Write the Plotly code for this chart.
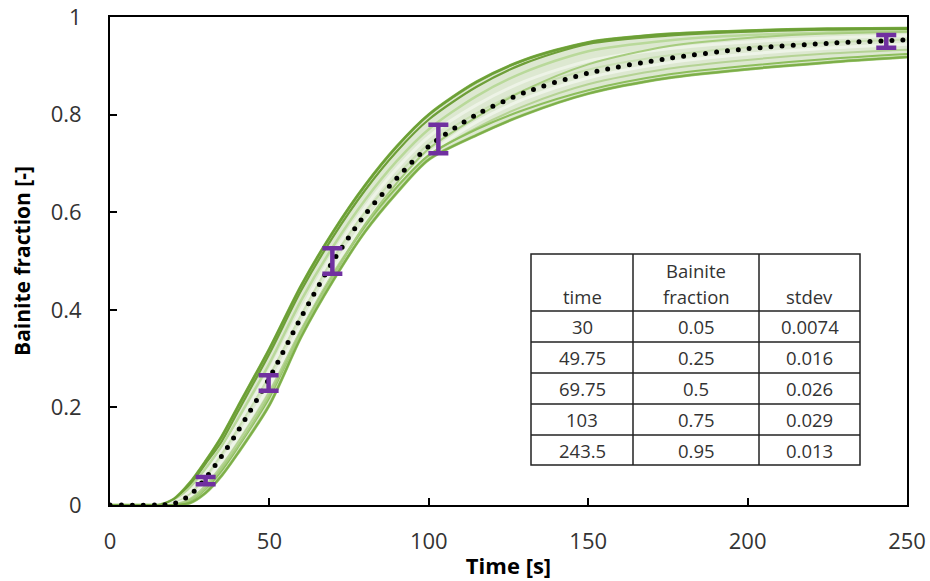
import plotly.graph_objects as go

# ---------------- data ----------------
T = [0, 15, 20, 25, 30, 35, 40, 50, 60, 70, 80, 90, 100, 115, 130, 150, 175, 200, 225, 250]

mean_fit = [0, 0, 0.003, 0.02, 0.055, 0.10, 0.15, 0.26, 0.385, 0.50, 0.595, 0.67, 0.735, 0.80, 0.845, 0.885, 0.915, 0.935, 0.946, 0.953]

upper_sim = [0, 0, 0.012, 0.045, 0.09, 0.14, 0.20, 0.32, 0.45, 0.56, 0.655, 0.735, 0.80, 0.867, 0.912, 0.948, 0.965, 0.972, 0.976, 0.977]
lower_sim = [0, 0, 0, 0.004, 0.025, 0.06, 0.105, 0.205, 0.345, 0.46, 0.56, 0.64, 0.708, 0.758, 0.80, 0.843, 0.875, 0.893, 0.907, 0.918]

sim_1 = [0, 0, 0.01, 0.04, 0.085, 0.13, 0.19, 0.31, 0.44, 0.55, 0.645, 0.725, 0.79, 0.857, 0.905, 0.945, 0.962, 0.97, 0.974, 0.975]
sim_2 = [0, 0, 0.008, 0.035, 0.075, 0.12, 0.175, 0.29, 0.42, 0.53, 0.625, 0.705, 0.77, 0.838, 0.887, 0.93, 0.952, 0.963, 0.968, 0.971]
sim_3 = [0, 0, 0.006, 0.028, 0.065, 0.11, 0.163, 0.275, 0.40, 0.515, 0.61, 0.69, 0.755, 0.82, 0.868, 0.91, 0.935, 0.949, 0.957, 0.962]
sim_4 = [0, 0, 0.004, 0.022, 0.058, 0.104, 0.155, 0.265, 0.39, 0.505, 0.60, 0.675, 0.74, 0.803, 0.85, 0.892, 0.921, 0.938, 0.948, 0.954]
sim_5 = [0, 0, 0.002, 0.016, 0.048, 0.09, 0.138, 0.245, 0.37, 0.485, 0.58, 0.655, 0.72, 0.785, 0.832, 0.875, 0.906, 0.924, 0.936, 0.944]
sim_6 = [0, 0, 0.001, 0.012, 0.04, 0.08, 0.127, 0.232, 0.36, 0.475, 0.57, 0.65, 0.715, 0.773, 0.818, 0.862, 0.894, 0.912, 0.925, 0.933]
sim_7 = [0, 0, 0, 0.008, 0.033, 0.07, 0.117, 0.22, 0.355, 0.47, 0.572, 0.652, 0.717, 0.77, 0.81, 0.85, 0.882, 0.9, 0.914, 0.924]
sim_8 = [0, 0, 0, 0.01, 0.035, 0.075, 0.12, 0.225, 0.355, 0.47, 0.575, 0.66, 0.73, 0.795, 0.85, 0.903, 0.94, 0.957, 0.966, 0.97]

exp_time = [30, 49.75, 69.75, 103, 243.5]
exp_time_labels = ["30", "49.75", "69.75", "103", "243.5"]
exp_fraction = [0.05, 0.25, 0.5, 0.75, 0.95]
exp_fraction_labels = ["0.05", "0.25", "0.5", "0.75", "0.95"]
exp_stdev = [0.0074, 0.016, 0.026, 0.029, 0.013]
exp_stdev_labels = ["0.0074", "0.016", "0.026", "0.029", "0.013"]

x_ticks = [0, 50, 100, 150, 200, 250]
y_ticks = [0, 0.2, 0.4, 0.6, 0.8, 1]
y_tick_labels = ["0", "0.2", "0.4", "0.6", "0.8", "1"]

# ---------------- figure ----------------
W, H = 930, 581
ML, MR, MT, MB = 110, 23, 17, 76
PW, PH = W - ML - MR, H - MT - MB

FONT = "'Open Sans', sans-serif"
SPL = dict(shape="spline", smoothing=0.8)
fig = go.Figure()

# band fill between envelopes
fig.add_trace(go.Scatter(x=T, y=lower_sim, mode="lines", line=dict(color="#9CC873", width=3, **SPL),
                         showlegend=False, hoverinfo="skip"))
fig.add_trace(go.Scatter(x=T, y=upper_sim, mode="lines", line=dict(color="#7FB24A", width=3, **SPL),
                         fill="tonexty", fillcolor="#DDE8D1", showlegend=False, hoverinfo="skip"))

inner = [
    (sim_1, "#6E9F38", 2.2),
    (sim_2, "#B9D99A", 2.5),
    (sim_3, "#EDF3E6", 3),
    (sim_4, "#C9DFB3", 2),
    (sim_5, "#EEF4E8", 3),
    (sim_6, "#B5D394", 2),
    (sim_7, "#8DBE5C", 2),
    (sim_8, "#A6CC7E", 2),
]
for ys, col, w in inner:
    fig.add_trace(go.Scatter(x=T, y=ys, mode="lines", line=dict(color=col, width=w, **SPL),
                             showlegend=False, hoverinfo="skip"))

# outer edges on top
fig.add_trace(go.Scatter(x=T, y=upper_sim, mode="lines", line=dict(color="#6C9F36", width=2, **SPL),
                         showlegend=False, hoverinfo="skip"))
fig.add_trace(go.Scatter(x=T, y=lower_sim, mode="lines", line=dict(color="#7DAE48", width=2, **SPL),
                         showlegend=False, hoverinfo="skip"))

# dotted fit
fig.add_trace(go.Scatter(x=T, y=mean_fit, mode="lines",
                         line=dict(color="black", width=5, dash="5px,6px", **SPL),
                         showlegend=False, hoverinfo="skip"))

# experimental error bars
fig.add_trace(go.Scatter(x=exp_time, y=exp_fraction, mode="markers",
                         marker=dict(size=1, color="rgba(0,0,0,0)"),
                         error_y=dict(type="data", array=exp_stdev, visible=True, color="#7030A0", thickness=4.5, width=10),
                         showlegend=False, hoverinfo="skip"))

# ---------------- table (shapes + annotations) ----------------
def px_x(p):
    return (p - ML) / PW

def px_y(p):
    return (H - MB - p) / PH

tab_cols = [531, 633, 759, 860]
tab_rows = [254, 311, 342, 373, 404, 435, 465]
shapes = []
shapes.append(dict(type="rect", xref="paper", yref="paper", x0=px_x(tab_cols[0]), x1=px_x(tab_cols[-1]),
                   y0=px_y(tab_rows[-1]), y1=px_y(tab_rows[0]), fillcolor="white",
                   line=dict(color="#222", width=1.5), layer="above"))
for c in tab_cols[1:-1]:
    shapes.append(dict(type="line", xref="paper", yref="paper", x0=px_x(c), x1=px_x(c),
                       y0=px_y(tab_rows[-1]), y1=px_y(tab_rows[0]), line=dict(color="#222", width=1.5), layer="above"))
for r in tab_rows[1:-1]:
    shapes.append(dict(type="line", xref="paper", yref="paper", x0=px_x(tab_cols[0]), x1=px_x(tab_cols[-1]),
                       y0=px_y(r), y1=px_y(r), line=dict(color="#222", width=1.5), layer="above"))

annots = []
tfont = dict(family=FONT, size=18.5, color="#333")
centers = [(tab_cols[i] + tab_cols[i + 1]) / 2 for i in range(3)]
def cell(text, cx, cy):
    annots.append(dict(text=text, xref="paper", yref="paper", x=px_x(cx), y=px_y(cy), showarrow=False,
                       xanchor="center", yanchor="middle", font=tfont))

cell("time", centers[0], 296)
cell("Bainite", centers[1], 270)
cell("fraction", centers[1], 296)
cell("stdev", centers[2], 296)
for i in range(len(exp_time)):
    cy = (tab_rows[i + 1] + tab_rows[i + 2]) / 2
    cell(exp_time_labels[i], centers[0], cy)
    cell(exp_fraction_labels[i], centers[1], cy)
    cell(exp_stdev_labels[i], centers[2], cy)

fig.update_layout(
    width=W, height=H,
    margin=dict(l=ML, r=MR, t=MT, b=MB),
    paper_bgcolor="white", plot_bgcolor="white",
    shapes=shapes, annotations=annots,
    showlegend=False,
)
fig.update_xaxes(range=[0, 250], tickvals=x_ticks, ticks="inside", ticklen=7, tickwidth=2, tickcolor="black",
                 showline=True, linecolor="black", linewidth=2, mirror=True, showgrid=False, zeroline=False,
                 automargin=False,
                 tickfont=dict(family=FONT, size=22, color="#333"), ticklabelstandoff=16,
                 title=dict(text="<b>Time [s]</b>", font=dict(family=FONT, size=22, color="black"), standoff=4))
fig.update_yaxes(range=[0, 1], tickvals=y_ticks, ticktext=y_tick_labels, ticks="inside", ticklen=7, tickwidth=2,
                 tickcolor="black", showline=True, linecolor="black", linewidth=2, mirror=True, showgrid=False,
                 zeroline=False, automargin=False, tickfont=dict(family=FONT, size=22, color="#333"), ticklabelstandoff=22,
                 title=dict(text="<b>Bainite fraction [-]</b>", font=dict(family=FONT, size=21, color="black"), standoff=14))

post = """
var gd = document.getElementById('{plot_id}');
function fixDots(){
  gd.querySelectorAll('path.js-line').forEach(function(p){
    var d = (p.style.strokeDasharray || '').replace(/\\s/g,'');
    if (d === '5px,6px') { p.style.strokeDasharray = '0px,11px'; p.style.strokeLinecap = 'round'; }
  });
}
fixDots();
gd.on('plotly_afterplot', fixDots);
"""
fig.write_html("out.html", post_script=post)
